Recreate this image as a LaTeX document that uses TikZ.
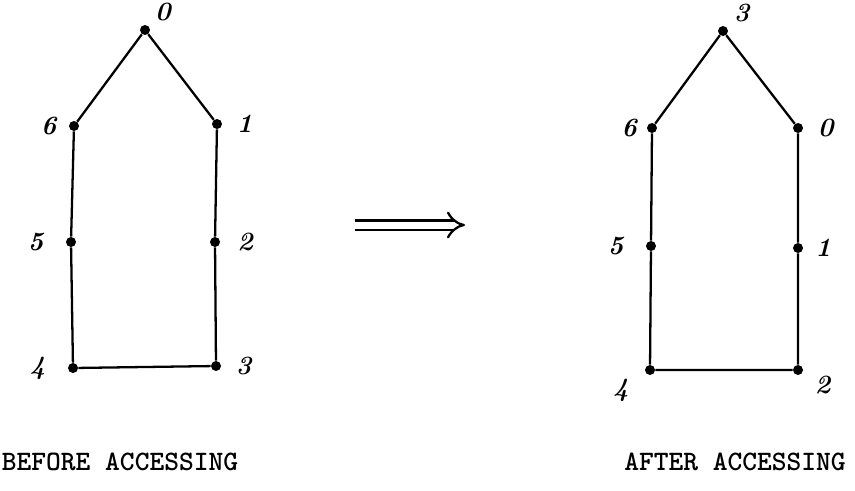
\documentclass[tikz,border=0pt]{standalone}
\usepackage{fontspec}
\usetikzlibrary{arrows.meta}

\begin{document}
\begin{tikzpicture}[
    dot/.style={circle, fill=black, inner sep=0pt, minimum size=0.2cm},
    lbl/.style={font=\fontsize{15}{17}\selectfont\bfseries\itshape, inner sep=1pt},
    edge/.style={line width=1.3pt},
    caption/.style={font=\fontsize{16}{18}\selectfont\ttfamily\bfseries}
]
    \useasboundingbox (0,0) rectangle (17.1,9.8);

    % before accessing
    \node[dot, label={[lbl, label distance=0.1cm]40:0}] (b0) at (2.9,9.2) {};
    \node[dot, label={[lbl, label distance=0.2cm]left:6}] (b6) at (1.48,7.28) {};
    \node[dot, label={[lbl, label distance=0.25cm]right:1}] (b1) at (4.34,7.32) {};
    \node[dot, label={[lbl, label distance=0.4cm]left:5}] (b5) at (1.42,4.96) {};
    \node[dot, label={[lbl, label distance=0.3cm]right:2}] (b2) at (4.3,4.96) {};
    \node[dot, label={[lbl, label distance=0.4cm]left:4}] (b4) at (1.46,2.44) {};
    \node[dot, label={[lbl, label distance=0.25cm]right:3}] (b3) at (4.32,2.48) {};

    \draw[edge] (b0) -- (b1) -- (b2) -- (b3) -- (b4) -- (b5) -- (b6) -- (b0);

    % after accessing
    \node[dot, label={[lbl, label distance=0.12cm]40:3}] (a3) at (14.46,9.18) {};
    \node[dot, label={[lbl, label distance=0.15cm]left:6}] (a6) at (13.04,7.24) {};
    \node[dot, label={[lbl, label distance=0.25cm]right:0}] (a0) at (15.96,7.24) {};
    \node[dot, label={[lbl, label distance=0.4cm]left:5}] (a5) at (13.02,4.88) {};
    \node[dot, label={[lbl, label distance=0.2cm]right:1}] (a1) at (15.96,4.84) {};
    \node[dot, label={[lbl, label distance=0.3cm]200:4}] (a4) at (13.0,2.4) {};
    \node[dot, label={[lbl, label distance=0.2cm]-15:2}] (a2) at (15.96,2.4) {};

    \draw[edge] (a3) -- (a0) -- (a1) -- (a2) -- (a4) -- (a5) -- (a6) -- (a3);

    % transition arrow
    \coordinate (arrS) at (7.1,5.3);
    \coordinate (arrE) at (9.3,5.3);
    \draw[line width=1.3pt, double, double distance=0.14cm, -{Implies[length=0.22cm]}] (arrS) -- (arrE);

    \node[caption] (before) at (2.4,0.56) {BEFORE ACCESSING};
    \node[caption] (after) at (14.7,0.56) {AFTER ACCESSING};
\end{tikzpicture}
\end{document}
